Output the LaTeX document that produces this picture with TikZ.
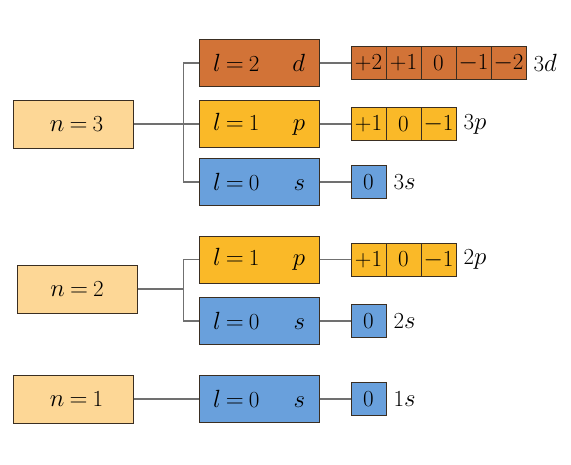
\documentclass[tikz,border=0pt]{standalone}
\definecolor{cd}{HTML}{D27337}
\definecolor{cp}{HTML}{FAB928}
\definecolor{cs}{HTML}{69A0DC}
\definecolor{cn}{HTML}{FDD796}
\definecolor{edge}{HTML}{3A2E22}
\definecolor{wirec}{HTML}{707070}
\newcommand{\eqs}{\hspace{0.22em}$=$\hspace{0.22em}}
\newcommand{\mns}{$-$}
\newcommand{\lt}[2]{\makebox[92pt]{$l$\eqs #1\hfill$#2$}}
\begin{document}
\begin{tikzpicture}[x=1pt,y=-1pt,
  every node/.style={font=\fontsize{23}{27}\selectfont},
  nbox/.style={draw=edge,line width=1pt,fill=cn,inner sep=0pt,minimum width=120pt,minimum height=48pt},
  lbox/.style={draw=edge,line width=1pt,inner sep=0pt,minimum width=120pt,minimum height=47pt},
  cell/.style={draw=edge,line width=0.8pt,inner sep=0pt,minimum width=35pt,minimum height=33pt},
  wire/.style={draw=wirec,line width=1.2pt},
  lab/.style={anchor=west,inner sep=0pt}]
\useasboundingbox (0,0) rectangle (571,464);
% n boxes
\node[nbox] (n3) at (73,124) {\hspace{7pt}$n$\eqs 3};
\node[nbox] (n2) at (77,289) {$n$\eqs 2};
\node[nbox] (n1) at (73,399) {\hspace{7pt}$n$\eqs 1};
% l boxes
\node[lbox,fill=cd] (l32) at (259,63) {\lt{2}{d}};
\node[lbox,fill=cp] (l31) at (259,124) {\lt{1}{p}};
\node[lbox,fill=cs] (l30) at (259,182) {\lt{0}{s}};
\node[lbox,fill=cp] (l21) at (259,259.5) {\lt{1}{p}};
\node[lbox,fill=cs] (l20) at (259,321) {\lt{0}{s}};
\node[lbox,fill=cs] (l10) at (259,399) {\lt{0}{s}};
% 3d cells
\node[cell,fill=cd] (d1) at (368.5,63) {+2};
\node[cell,fill=cd] (d2) at (403.5,63) {+1};
\node[cell,fill=cd] (d3) at (438.5,63) {0};
\node[cell,fill=cd] (d4) at (473.5,63) {\mns1};
\node[cell,fill=cd] (d5) at (508.5,63) {\mns2};
\node[lab] (t3d) at ([xshift=7pt]d5.east) {3$d$};
% 3p cells
\node[cell,fill=cp] (p1) at (368.5,124) {+1};
\node[cell,fill=cp] (p2) at (403.5,124) {0};
\node[cell,fill=cp] (p3) at (438.5,124) {\mns1};
\node[lab] (t3p) at ([xshift=7pt]p3.east) {3$p$};
% 3s
\node[cell,fill=cs] (s3) at (368.5,182) {0};
\node[lab] (t3s) at ([xshift=7pt]s3.east) {3$s$};
% 2p
\node[cell,fill=cp] (q1) at (368.5,259.5) {+1};
\node[cell,fill=cp] (q2) at (403.5,259.5) {0};
\node[cell,fill=cp] (q3) at (438.5,259.5) {\mns1};
\node[lab] (t2p) at ([xshift=7pt]q3.east) {2$p$};
% 2s
\node[cell,fill=cs] (s2) at (368.5,321) {0};
\node[lab] (t2s) at ([xshift=7pt]s2.east) {2$s$};
% 1s
\node[cell,fill=cs] (s1) at (368.5,399) {0};
\node[lab] (t1s) at ([xshift=7pt]s1.east) {1$s$};
% connectors
\coordinate (b2) at (184,289);
\draw[wire] (n3.east) -- (l31.west);
\draw[wire] (l32.west) -- ++(-15,0) |- (l30.west);
\draw[wire] (n2.east) -- (b2);
\draw[wire] (l21.west) -- ++(-15,0) |- (l20.west);
\draw[wire] (n1.east) -- (l10.west);
\draw[wire] (l32.east) -- (d1.west);
\draw[wire] (l31.east) -- (p1.west);
\draw[wire] (l30.east) -- (s3.west);
\draw[wire] (l21.east) -- (q1.west);
\draw[wire] (l20.east) -- (s2.west);
\draw[wire] (l10.east) -- (s1.west);
\end{tikzpicture}
\end{document}
